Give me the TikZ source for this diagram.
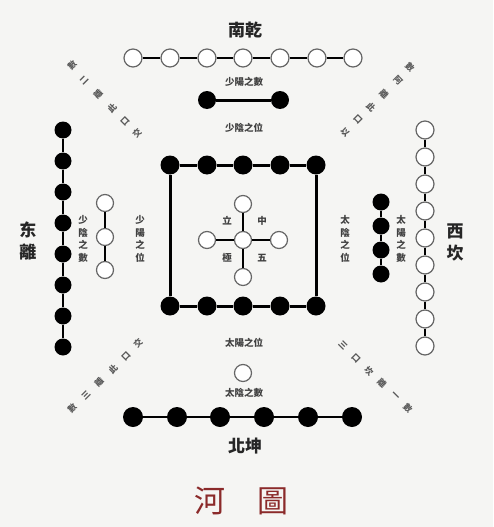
\documentclass[tikz,border=0pt]{standalone}
\usepackage{fontspec}
\newfontfamily\cjk{Noto Sans CJK TC}
\definecolor{bgc}{HTML}{F5F5F3}
\definecolor{hered}{HTML}{8B2A2A}
\begin{document}
\begin{tikzpicture}[x=1pt,y=-1pt,
  wc/.style={circle,draw=black!60,fill=white,line width=1.2pt,minimum size=18pt,inner sep=0pt},
  bc/.style={circle,fill=black,minimum size=18pt,inner sep=0pt},
  lab/.style={font=\cjk\bfseries\fontsize{9.5}{12.5}\selectfont,text=black!75,align=center,inner sep=0pt},
  ttl/.style={font=\cjk\bfseries\fontsize{17}{22}\selectfont,text=black!85,align=center,inner sep=0pt},
  dg/.style={font=\cjk\bfseries\fontsize{8.5}{8.5}\selectfont,text=black!65,inner sep=0pt},
  ln/.style={line width=2.2pt},
  sq/.style={line width=3pt}]
\fill[bgc] (0,0) rectangle (493,527);
\useasboundingbox (0,0) rectangle (493,527);

% titles
\node[ttl] (south) at (245,30) {南乾};
\node[ttl] (north) at (245,446) {北坤};
\node[ttl] (east) at (28,241) {东\\離};
\node[ttl] (west) at (455,242) {西\\坎};
\node[font=\cjk\fontsize{31}{31}\selectfont,text=hered,inner sep=0pt] (he) at (210,501) {河};
\node[font=\cjk\fontsize{31}{31}\selectfont,text=hered,inner sep=0pt] (tu) at (273,501) {圖};

% top: 7 white
\foreach \i/\x in {1/133,2/170,3/207,4/243,5/280,6/317,7/353}
  \node[wc] (s\i) at (\x,58) {};
\draw[ln] (s1)--(s2)--(s3)--(s4)--(s5)--(s6)--(s7);
\node[lab] (l1) at (244,82) {少陽之數};
\node[bc] (p1) at (207,100) {};
\node[bc] (p2) at (280,100) {};
\draw[sq] (p1)--(p2);
\node[lab] (l2) at (244,128) {少陰之位};

% square
\foreach \i/\x in {1/170,2/207,3/243,4/280,5/316} {
  \node[bc,minimum size=19pt] (t\i) at (\x,165) {};
  \node[bc,minimum size=19pt] (b\i) at (\x,306) {};
}
\draw[sq] (b1)--(t1)--(t2)--(t3)--(t4)--(t5)--(b5)--(b4)--(b3)--(b2)--(b1);

% centre cross
\node[wc,minimum size=17pt] (c0) at (243,240) {};
\node[wc,minimum size=17pt] (c1) at (243,204) {};
\node[wc,minimum size=17pt] (c2) at (243,277) {};
\node[wc,minimum size=17pt] (c3) at (207,240) {};
\node[wc,minimum size=17pt] (c4) at (279,240) {};
\draw[line width=2.6pt] (c0)--(c1) (c0)--(c2) (c0)--(c3) (c0)--(c4);
\node[lab] (m1) at (227,221) {立};
\node[lab] (m2) at (262,221) {中};
\node[lab] (m3) at (227,258) {極};
\node[lab] (m4) at (262,258) {五};

% left: 8 black
\foreach \i/\y in {1/130,2/161,3/192,4/223,5/254,6/285,7/316,8/347}
  \node[bc,minimum size=17pt] (e\i) at (63,\y) {};
\draw[line width=2.8pt] (e1)--(e2)--(e3)--(e4)--(e5)--(e6)--(e7)--(e8);
% left: 3 white
\foreach \i/\y in {1/203,2/237,3/270}
  \node[wc,minimum size=17pt] (f\i) at (105,\y) {};
\draw[ln] (f1)--(f2)--(f3);
\node[lab] (l3) at (83,239) {少\\陰\\之\\數};
\node[lab] (l4) at (140,239) {少\\陽\\之\\位};

% right: 9 white
\foreach \i/\y in {1/130,2/157,3/184,4/211,5/238,6/265,7/292,8/319,9/346}
  \node[wc] (w\i) at (425,\y) {};
\draw[line width=2.8pt] (w1)--(w2)--(w3)--(w4)--(w5)--(w6)--(w7)--(w8)--(w9);
% right: 4 black
\foreach \i/\y in {1/202,2/226,3/250,4/274}
  \node[bc,minimum size=17pt] (k\i) at (381,\y) {};
\draw[line width=2.8pt] (k1)--(k2)--(k3)--(k4);
\node[lab] (l5) at (345,239) {太\\陰\\之\\位};
\node[lab] (l6) at (401,239) {太\\陽\\之\\數};

% bottom
\node[lab] (l7) at (244,343) {太陽之位};
\node[wc,minimum size=17pt] (u1) at (243,373) {};
\node[lab] (l8) at (244,393) {太陰之數};
\foreach \i/\x in {1/133,2/177,3/220,4/264,5/308,6/352}
  \node[bc,minimum size=20pt] (n\i) at (\x,417) {};
\draw[ln] (n1)--(n2)--(n3)--(n4)--(n5)--(n6);

% diagonal texts
\foreach \c/\x/\y [count=\k] in {數/72/65,二/84/80,離/98/94,此/112/108,口/125/121,交/137/133}
  \node[dg,rotate=45] (ul\k) at (\x,\y) {\c};
\foreach \c/\x/\y [count=\k] in {數/410/67,阿/398/80,離/384/94,此/371/107,口/358/119,以/345/132}
  \node[dg,rotate=-45] (ur\k) at (\x,\y) {\c};
\foreach \c/\x/\y [count=\k] in {交/138/343,口/126/356,此/113/369,離/99/382,三/86/395,數/72/408}
  \node[dg,rotate=45] (ll\k) at (\x,\y) {\c};
\foreach \c/\x/\y [count=\k] in {三/343/345,口/356/358,坎/369/371,離/382/383,一/395/396,數/408/408}
  \node[dg,rotate=-45] (lr\k) at (\x,\y) {\c};
\end{tikzpicture}
\end{document}
